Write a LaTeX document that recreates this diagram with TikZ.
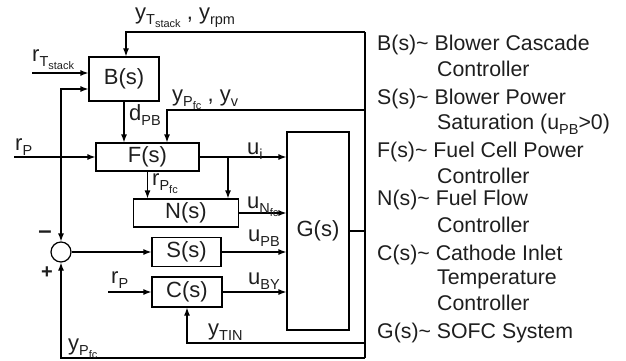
\documentclass[tikz,border=0pt]{standalone}
\usepackage{fontspec}
\setmainfont{Liberation Sans}
\usetikzlibrary{arrows.meta,calc}
\newcommand\sbx[1]{\raisebox{-5pt}{\fontsize{14.5}{14}\selectfont #1}}
\newcommand\ssbx[1]{\raisebox{-3pt}{\fontsize{11}{10}\selectfont #1}}
\definecolor{txt}{RGB}{30,30,30}
\begin{document}
\begin{tikzpicture}[x=1pt,y=-1pt,
  blk/.style={draw,line width=1.2pt,inner sep=0pt,text=txt,font=\fontsize{22}{24}\selectfont},
  ln/.style={line width=1.2pt},
  ar/.style={ln,-{Latex[length=8pt,width=6pt]}},
  lbl/.style={inner sep=0pt,anchor=base west,text=txt,font=\fontsize{22}{24}\selectfont},
  leg/.style={inner sep=0pt,anchor=base west,text=txt,font=\fontsize{21.3}{24}\selectfont},
  bus/.style={line width=2.8pt}]
\useasboundingbox (0,0) rectangle (626,361);
% blocks
\node[blk,minimum width=70pt,minimum height=44pt] (B) at (124,79) {B(s)};
\node[blk,minimum width=103pt,minimum height=28pt] (F) at (147.5,157) {F(s)};
\node[blk,minimum width=105pt,minimum height=28pt] (N) at (186,213) {N(s)};
\node[blk,minimum width=69pt,minimum height=29pt] (S) at (186.5,252) {S(s)};
\node[blk,minimum width=70pt,minimum height=30pt] (C) at (187,292) {C(s)};
\node[blk,minimum width=62pt,minimum height=198pt] (G) at (318,231) {G(s)};
\node[draw,circle,line width=1.2pt,minimum size=20pt,inner sep=0pt] (sum) at (61,252) {};
% bus coordinates
\coordinate (b1) at (365,32);
\coordinate (b2) at (365,110);
\coordinate (b3) at (365,343);
\coordinate (b4) at (365,358);
\coordinate (rt) at (32,73);
\coordinate (rp1) at (14,157);
\coordinate (rp2) at (108,292);
\coordinate (br) at (228,157);
% bus
\draw[bus] (b1) -- (b4);
\draw[bus] (G.east) -- (G.east -| b1);
% feedback lines
\draw[ar] (b1) -| ([xshift=2pt]B.north);
\draw[ar] (b2) -| ([xshift=19.5pt]F.north);
\draw[ar] (b3) -| (C.south);
\draw[ar] (b4) -| (sum.south);
% inputs
\draw[ar] (rt) -- (rt -| B.west);
\draw[ar] (rp1) -- (F.west);
\draw[ar] (rp2) -- (C.west);
\draw[ln,{Latex[length=8pt,width=6pt]}-{Latex[length=8pt,width=6pt]}] (sum.north) |- ([yshift=-10pt]B.west);
% internal
\draw[ar] (B.south) -- (B.south |- F.north);
\draw[ar] (F.east) -- (F.east -| G.west);
\draw[ar] (br) -- (br |- N.north);
\draw[ar] (F.south) -- (F.south |- N.north);
\draw[ar] (N.east) -- (N.east -| G.west);
\draw[ar] (sum.east) -- (S.west);
\draw[ar] (S.east) -- (S.east -| G.west);
\draw[ar] (C.east) -- (C.east -| G.west);
% labels
\node[lbl] (l1) at (135,20) {y\sbx{T\ssbx{stack}} , y\sbx{rpm}};
\node[lbl] (l2) at (32,62) {r\sbx{T\ssbx{stack}}};
\node[lbl] (l3) at (129,120) {d\sbx{PB}};
\node[lbl] (l4) at (172,101) {y\sbx{P\ssbx{fc}} , y\sbx{v}};
\node[lbl] (l5) at (15,150) {r\sbx{P}};
\node[lbl] (l6) at (247,154) {u\sbx{i}};
\node[lbl] (l7) at (152,185) {r\sbx{P\ssbx{fc}}};
\node[lbl] (l8) at (247,208) {u\sbx{N\ssbx{fc}}};
\node[lbl] (l9) at (248,241) {u\sbx{PB}};
\node[lbl] (l10) at (248,284) {u\sbx{BY}};
\node[lbl] (l11) at (111,283) {r\sbx{P}};
\node[lbl] (l12) at (208,335) {y\sbx{TIN}};
\node[lbl] (l13) at (68,350) {y\sbx{P\ssbx{fc}}};
\node[font=\fontsize{24}{24}\selectfont\bfseries,inner sep=0pt,text=txt] (mi) at (45,235) {\textendash};
\node[font=\fontsize{20}{24}\selectfont\bfseries,inner sep=0pt,text=txt] (pl) at (47,273) {+};
% legend
\node[leg] (g1) at (377,51) {B(s)\textasciitilde{} Blower Cascade};
\node[leg] (g2) at (437,76) {Controller};
\node[leg] (g3) at (377,104) {S(s)\textasciitilde{} Blower Power};
\node[leg] (g4) at (437,129) {Saturation (u\sbx{PB}>0)};
\node[leg] (g5) at (377,157) {F(s)\textasciitilde{} Fuel Cell Power};
\node[leg] (g6) at (437,183) {Controller};
\node[leg] (g7) at (377,205) {N(s)\textasciitilde{} Fuel Flow};
\node[leg] (g8) at (437,232) {Controller};
\node[leg] (g9) at (377,260) {C(s)\textasciitilde{} Cathode Inlet};
\node[leg] (g10) at (437,284) {Temperature};
\node[leg] (g11) at (437,310) {Controller};
\node[leg] (g12) at (377,338) {G(s)\textasciitilde{} SOFC System};
\end{tikzpicture}
\end{document}
